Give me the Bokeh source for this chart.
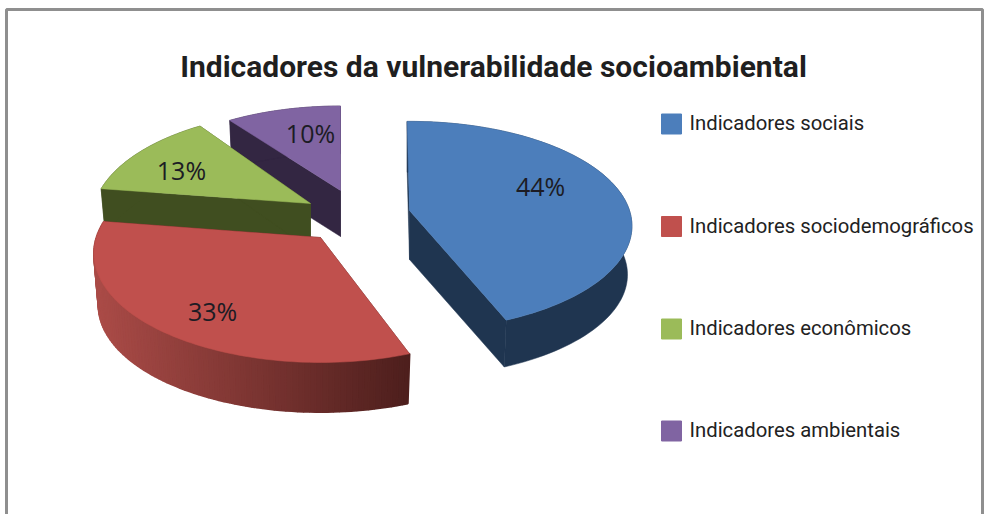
import math
from bokeh.plotting import figure
from bokeh.models import Range1d
from bokeh.core.properties import value
from bokeh.embed import file_html
from bokeh.resources import INLINE

title = "Indicadores da vulnerabilidade socioambiental"
categories = ["Indicadores sociais", "Indicadores sociodemográficos", "Indicadores econômicos", "Indicadores ambientais"]
shares = [44, 33, 13, 10]

top_colors = ["#4C7EBB", "#C0504D", "#9BBB59", "#8064A2"]
wall_colors = ["#1F3550", None, "#404E20", "#332642"]
red_wall_left = (170, 75, 71)
red_wall_right = (78, 31, 29)

# layout of each exploded slice:
# apex x, apex y, radius x, radius y, wall depth, rotation (deg), label radius, label angle (deg)
geometry = [
    (409, 210, 220, 102.3, 49, 1.3, 0.666, 68.0),
    (320, 237, 224, 106.5, 52, 3.6, 0.762, 215.0),
    (310, 203, 216, 106.0, 46, 3.0, 0.711, 298.1),
    (340, 190, 211, 97.0, 46, 2.0, 0.663, 346.4),
]
persp = 0.148
base_scale = 0.98
start_deg = -2.0

FONT = "Roboto"


def project(g, theta, frac=1.0, lower=False):
    cx, cy, rx, ry, dep = g[:5]
    u = math.sin(theta) * frac
    v = -math.cos(theta) * frac
    w = 1 - persp * v
    k = base_scale if lower else 1.0
    return cx + k * rx * u / w, cy + (dep if lower else 0) + k * ry * v / w


p = figure(width=984, height=514, x_range=Range1d(0, 984), y_range=Range1d(514, 0),
           x_axis_type=None, y_axis_type=None, toolbar_location=None,
           output_backend="svg", min_border=0, outline_line_color=None,
           background_fill_color="white", border_fill_color="white")

# slice angle spans
spans = []
acc = start_deg
for s, g in zip(shares, geometry):
    a0 = acc + g[5]
    acc += s * 3.6
    spans.append((math.radians(a0), math.radians(acc + g[5])))

# paint far slices first: purple, green, red, blue
for i in [3, 2, 1, 0]:
    g = geometry[i]
    a0, a1 = spans[i]
    n = 90
    angles = [a0 + (a1 - a0) * k / n for k in range(n + 1)]
    solid = wall_colors[i]
    # radial cut faces
    for a in (a0, a1):
        t = project(g, a)
        b = project(g, a, lower=True)
        p.patch([g[0], t[0], b[0], g[0]], [g[1], t[1], b[1], g[1] + g[4]],
                fill_color=solid or "#51201E", line_color=solid or "#51201E", line_width=0.5)
    # outer wall
    if solid:
        tops = [project(g, a) for a in angles]
        bots = [project(g, a, lower=True) for a in reversed(angles)]
        ring = tops + bots
        p.patch([q[0] for q in ring], [q[1] for q in ring], fill_color=solid, line_color=solid, line_width=0.5)
    else:
        xs, ys, cols = [], [], []
        for k in range(n):
            t0, t1 = project(g, angles[k]), project(g, angles[k + 1])
            b0, b1 = project(g, angles[k], lower=True), project(g, angles[k + 1], lower=True)
            xs.append([t0[0], t1[0], b1[0], b0[0]])
            ys.append([t0[1], t1[1], b1[1], b0[1]])
            f = min(1, max(0, ((t0[0] + t1[0]) / 2 - 95) / 310))
            rgb = [round(red_wall_left[c] + (red_wall_right[c] - red_wall_left[c]) * f) for c in range(3)]
            cols.append("#%02x%02x%02x" % tuple(rgb))
        p.patches(xs, ys, fill_color=cols, line_color=cols, line_width=2)
    # top face
    arc = [project(g, a) for a in angles]
    p.patch([g[0]] + [q[0] for q in arc], [g[1]] + [q[1] for q in arc],
            fill_color=top_colors[i], line_color=top_colors[i], line_width=0.5)

# percent labels
for i, s in enumerate(shares):
    g = geometry[i]
    lx, ly = project(g, math.radians(g[7]), frac=g[6])
    p.text([lx], [ly], text=[f"{s}%"], text_align="center", text_baseline="middle",
           text_font=value("Open Sans"), text_font_size="25px", text_color="#1c1c24")

# frame
p.line([6, 6, 982, 982], [514, 9, 9, 514], line_color="#8f8f8f", line_width=3)

# title
p.text([493], [65.5], text=[title], text_align="center", text_baseline="middle",
       text_font=value(FONT), text_font_style="bold", text_font_size="30px", text_color="#1f1f1f")

# legend
legend_y = [123.5, 226, 328.5, 430.5]
p.rect([671] * 4, legend_y, width=20, height=20, fill_color=top_colors, line_color=top_colors)
p.text([689] * 4, [y - 1 for y in legend_y], text=categories, text_align="left", text_baseline="middle",
       text_font=value(FONT), text_font_size="20.3px", text_color="#222222")

open("out.html", "w").write(file_html(p, INLINE))
